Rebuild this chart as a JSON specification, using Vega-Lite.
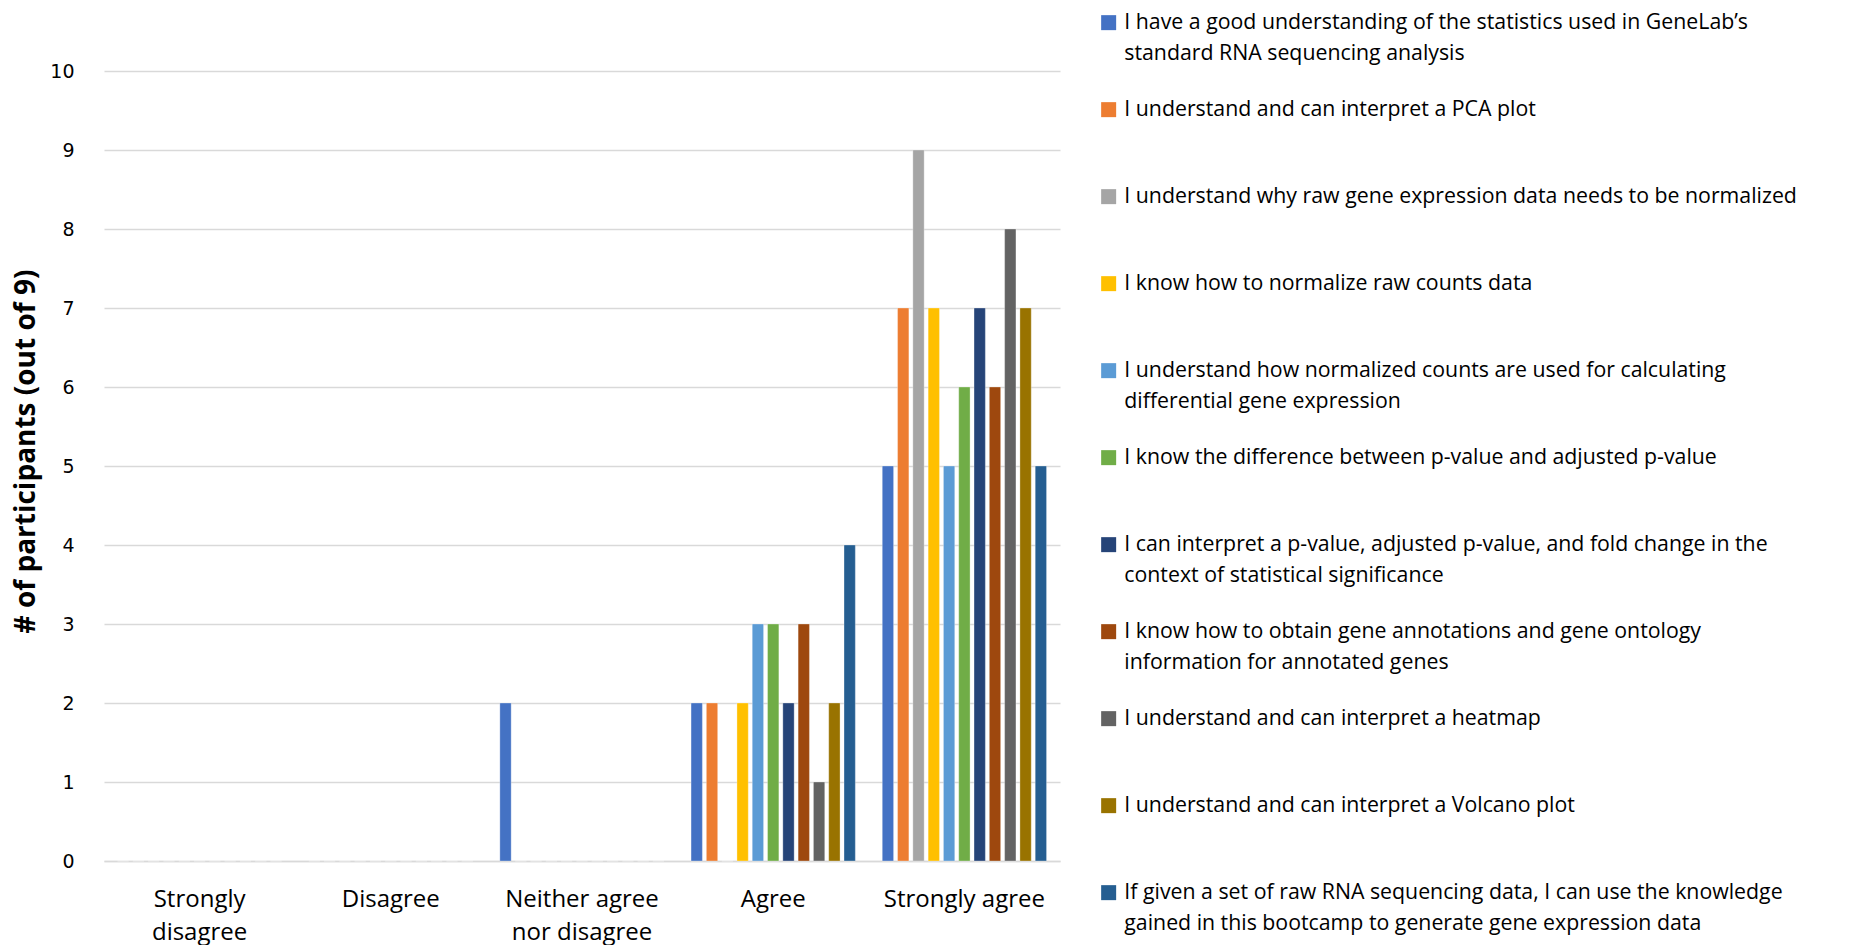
{
  "$schema": "https://vega.github.io/schema/vega-lite/v6.json",
  "autosize": {"type": "none"},
  "width": 956,
  "height": 790,
  "padding": {"left": 104, "top": 71, "right": 790, "bottom": 84},
  "background": "white",
  "config": {
    "view": {"stroke": null},
    "font": "Open Sans",
    "text": {"lineBreak": "\n"},
    "style": {"guide-label": {"lineHeight": 31}}
  },
  "data": {
    "values": [
      {"response": "Strongly disagree", "statement": "I have a good understanding of the statistics used in GeneLab’s standard RNA sequencing analysis", "count": 0},
      {"response": "Strongly disagree", "statement": "I understand and can interpret a PCA plot", "count": 0},
      {"response": "Strongly disagree", "statement": "I understand why raw gene expression data needs to be normalized", "count": 0},
      {"response": "Strongly disagree", "statement": "I know how to normalize raw counts data", "count": 0},
      {"response": "Strongly disagree", "statement": "I understand how normalized counts are used for calculating differential gene expression", "count": 0},
      {"response": "Strongly disagree", "statement": "I know the difference between p-value and adjusted p-value", "count": 0},
      {"response": "Strongly disagree", "statement": "I can interpret a p-value, adjusted p-value, and fold change in the context of statistical significance", "count": 0},
      {"response": "Strongly disagree", "statement": "I know how to obtain gene annotations and gene ontology information for annotated genes", "count": 0},
      {"response": "Strongly disagree", "statement": "I understand and can interpret a heatmap", "count": 0},
      {"response": "Strongly disagree", "statement": "I understand and can interpret a Volcano plot", "count": 0},
      {"response": "Strongly disagree", "statement": "If given a set of raw RNA sequencing data, I can use the knowledge gained in this bootcamp to generate gene expression data", "count": 0},
      {"response": "Disagree", "statement": "I have a good understanding of the statistics used in GeneLab’s standard RNA sequencing analysis", "count": 0},
      {"response": "Disagree", "statement": "I understand and can interpret a PCA plot", "count": 0},
      {"response": "Disagree", "statement": "I understand why raw gene expression data needs to be normalized", "count": 0},
      {"response": "Disagree", "statement": "I know how to normalize raw counts data", "count": 0},
      {"response": "Disagree", "statement": "I understand how normalized counts are used for calculating differential gene expression", "count": 0},
      {"response": "Disagree", "statement": "I know the difference between p-value and adjusted p-value", "count": 0},
      {"response": "Disagree", "statement": "I can interpret a p-value, adjusted p-value, and fold change in the context of statistical significance", "count": 0},
      {"response": "Disagree", "statement": "I know how to obtain gene annotations and gene ontology information for annotated genes", "count": 0},
      {"response": "Disagree", "statement": "I understand and can interpret a heatmap", "count": 0},
      {"response": "Disagree", "statement": "I understand and can interpret a Volcano plot", "count": 0},
      {"response": "Disagree", "statement": "If given a set of raw RNA sequencing data, I can use the knowledge gained in this bootcamp to generate gene expression data", "count": 0},
      {"response": "Neither agree nor disagree", "statement": "I have a good understanding of the statistics used in GeneLab’s standard RNA sequencing analysis", "count": 2},
      {"response": "Neither agree nor disagree", "statement": "I understand and can interpret a PCA plot", "count": 0},
      {"response": "Neither agree nor disagree", "statement": "I understand why raw gene expression data needs to be normalized", "count": 0},
      {"response": "Neither agree nor disagree", "statement": "I know how to normalize raw counts data", "count": 0},
      {"response": "Neither agree nor disagree", "statement": "I understand how normalized counts are used for calculating differential gene expression", "count": 0},
      {"response": "Neither agree nor disagree", "statement": "I know the difference between p-value and adjusted p-value", "count": 0},
      {"response": "Neither agree nor disagree", "statement": "I can interpret a p-value, adjusted p-value, and fold change in the context of statistical significance", "count": 0},
      {"response": "Neither agree nor disagree", "statement": "I know how to obtain gene annotations and gene ontology information for annotated genes", "count": 0},
      {"response": "Neither agree nor disagree", "statement": "I understand and can interpret a heatmap", "count": 0},
      {"response": "Neither agree nor disagree", "statement": "I understand and can interpret a Volcano plot", "count": 0},
      {"response": "Neither agree nor disagree", "statement": "If given a set of raw RNA sequencing data, I can use the knowledge gained in this bootcamp to generate gene expression data", "count": 0},
      {"response": "Agree", "statement": "I have a good understanding of the statistics used in GeneLab’s standard RNA sequencing analysis", "count": 2},
      {"response": "Agree", "statement": "I understand and can interpret a PCA plot", "count": 2},
      {"response": "Agree", "statement": "I understand why raw gene expression data needs to be normalized", "count": 0},
      {"response": "Agree", "statement": "I know how to normalize raw counts data", "count": 2},
      {"response": "Agree", "statement": "I understand how normalized counts are used for calculating differential gene expression", "count": 3},
      {"response": "Agree", "statement": "I know the difference between p-value and adjusted p-value", "count": 3},
      {"response": "Agree", "statement": "I can interpret a p-value, adjusted p-value, and fold change in the context of statistical significance", "count": 2},
      {"response": "Agree", "statement": "I know how to obtain gene annotations and gene ontology information for annotated genes", "count": 3},
      {"response": "Agree", "statement": "I understand and can interpret a heatmap", "count": 1},
      {"response": "Agree", "statement": "I understand and can interpret a Volcano plot", "count": 2},
      {"response": "Agree", "statement": "If given a set of raw RNA sequencing data, I can use the knowledge gained in this bootcamp to generate gene expression data", "count": 4},
      {"response": "Strongly agree", "statement": "I have a good understanding of the statistics used in GeneLab’s standard RNA sequencing analysis", "count": 5},
      {"response": "Strongly agree", "statement": "I understand and can interpret a PCA plot", "count": 7},
      {"response": "Strongly agree", "statement": "I understand why raw gene expression data needs to be normalized", "count": 9},
      {"response": "Strongly agree", "statement": "I know how to normalize raw counts data", "count": 7},
      {"response": "Strongly agree", "statement": "I understand how normalized counts are used for calculating differential gene expression", "count": 5},
      {"response": "Strongly agree", "statement": "I know the difference between p-value and adjusted p-value", "count": 6},
      {"response": "Strongly agree", "statement": "I can interpret a p-value, adjusted p-value, and fold change in the context of statistical significance", "count": 7},
      {"response": "Strongly agree", "statement": "I know how to obtain gene annotations and gene ontology information for annotated genes", "count": 6},
      {"response": "Strongly agree", "statement": "I understand and can interpret a heatmap", "count": 8},
      {"response": "Strongly agree", "statement": "I understand and can interpret a Volcano plot", "count": 7},
      {"response": "Strongly agree", "statement": "If given a set of raw RNA sequencing data, I can use the knowledge gained in this bootcamp to generate gene expression data", "count": 5}
    ]
  },
  "mark": {"type": "bar", "stroke": "white", "strokeWidth": 0.5, "strokeOpacity": 0.6},
  "encoding": {
    "x": {
      "field": "response",
      "type": "nominal",
      "sort": ["Strongly disagree", "Disagree", "Neither agree nor disagree", "Agree", "Strongly agree"],
      "scale": {"paddingInner": 0, "paddingOuter": 0},
      "axis": {
        "title": null,
        "domainColor": "#d9d9d9",
        "domainWidth": 1.5,
        "ticks": false,
        "labelAngle": 0,
        "labelFont": "Open Sans",
        "labelFontSize": 24,
        "labelColor": "#000000",
        "labelPadding": 26,
        "labelLineHeight": 33,
        "labelBaseline": "top",
        "labelLimit": 300,
        "labelExpr": "datum.value == 'Strongly disagree' ? ['Strongly', 'disagree'] : datum.value == 'Neither agree nor disagree' ? ['Neither agree', 'nor disagree'] : datum.value"
      }
    },
    "xOffset": {
      "field": "statement",
      "type": "nominal",
      "sort": null,
      "scale": {"paddingInner": 0.26, "paddingOuter": 0.88}
    },
    "y": {
      "field": "count",
      "type": "quantitative",
      "scale": {"domain": [0, 10], "nice": false},
      "axis": {
        "title": "# of participants (out of 9)",
        "titleFont": "Open Sans",
        "titleFontSize": 28,
        "titleFontWeight": "bold",
        "titleColor": "#000000",
        "titlePadding": 9,
        "titleY": 380,
        "values": [0, 1, 2, 3, 4, 5, 6, 7, 8, 9, 10],
        "domain": false,
        "ticks": false,
        "grid": true,
        "gridColor": "#d9d9d9",
        "gridWidth": 1.5,
        "labelFont": "DejaVu Sans",
        "labelFontSize": 19,
        "labelColor": "#000000",
        "labelPadding": 30
      }
    },
    "color": {
      "field": "statement",
      "type": "nominal",
      "sort": null,
      "scale": {
        "range": ["#4472C4", "#ED7D31", "#A5A5A5", "#FFC000", "#5B9BD5", "#70AD47", "#264478", "#9E480E", "#636363", "#997300", "#255E91"]
      },
      "legend": {
        "title": null,
        "orient": "none",
        "legendX": 994,
        "legendY": -59,
        "direction": "vertical",
        "symbolType": "square",
        "symbolSize": 225,
        "symbolStrokeWidth": 0,
        "symbolOpacity": 1,
        "labelFont": "Open Sans",
        "labelFontSize": 21.3,
        "labelColor": "#000000",
        "labelLimit": 800,
        "labelOffset": 5,
        "labelBaseline": "middle",
        "rowPadding": 34,
        "gridAlign": "all",
        "labelExpr": "datum.value == 'I have a good understanding of the statistics used in GeneLab’s standard RNA sequencing analysis' ? ['I have a good understanding of the statistics used in GeneLab’s', 'standard RNA sequencing analysis'] : datum.value == 'I understand how normalized counts are used for calculating differential gene expression' ? ['I understand how normalized counts are used for calculating', 'differential gene expression'] : datum.value == 'I can interpret a p-value, adjusted p-value, and fold change in the context of statistical significance' ? ['I can interpret a p-value, adjusted p-value, and fold change in the', 'context of statistical significance'] : datum.value == 'I know how to obtain gene annotations and gene ontology information for annotated genes' ? ['I know how to obtain gene annotations and gene ontology', 'information for annotated genes'] : datum.value == 'If given a set of raw RNA sequencing data, I can use the knowledge gained in this bootcamp to generate gene expression data' ? ['If given a set of raw RNA sequencing data, I can use the knowledge', 'gained in this bootcamp to generate gene expression data'] : datum.value"
      }
    }
  }
}
